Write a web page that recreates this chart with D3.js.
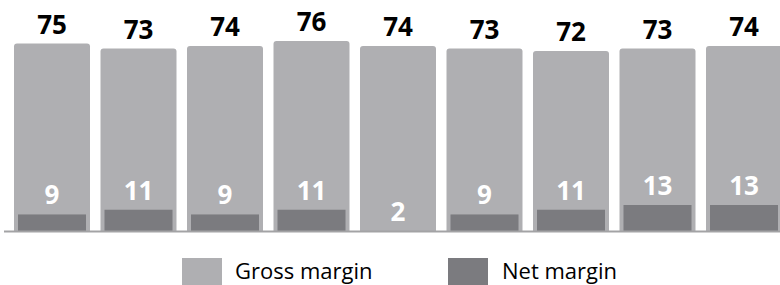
<!DOCTYPE html>
<html>
<head>
<meta charset="utf-8">
<script src="https://d3js.org/d3.v7.min.js"></script>
<style>
body { margin: 0; background: #fff; }
svg { display: block; }
</style>
</head>
<body>
<div id="chart"></div>
<script>
// data
var periods = ["1", "2", "3", "4", "5", "6", "7", "8", "9"];
var grossMargin = [75, 73, 74, 76, 74, 73, 72, 73, 74];
var netMargin = [9, 11, 9, 11, 2, 9, 11, 13, 13];
var seriesNames = ["Gross margin", "Net margin"];
var colors = ["#afafb2", "#7b7b7f"];

var width = 780, height = 285;
var baseY = 231;

var svg = d3.select("#chart").append("svg")
  .attr("width", width)
  .attr("height", height);

var x = d3.scaleBand()
  .domain(periods)
  .range([14, 782])
  .paddingInner(0.1214)
  .paddingOuter(0);

// gross bars start at zero
var y = d3.scaleLinear()
  .domain([0, 76])
  .range([baseY, baseY - 190]);

// net bars drawn on their own (truncated) scale, as in the original
var yNet = d3.scaleLinear()
  .domain([2, 13])
  .range([baseY, 205]);

var rows = periods.map(function(p, i) {
  return {p: p, gross: grossMargin[i], net: netMargin[i]};
});

// top-rounded rect path
function topRounded(x0, y0, w, h, r) {
  return "M" + x0 + "," + (y0 + h) +
    "V" + (y0 + r) +
    "Q" + x0 + "," + y0 + " " + (x0 + r) + "," + y0 +
    "H" + (x0 + w - r) +
    "Q" + (x0 + w) + "," + y0 + " " + (x0 + w) + "," + (y0 + r) +
    "V" + (y0 + h) + "Z";
}

svg.selectAll(".gross")
  .data(rows)
  .enter().append("path")
    .attr("class", "gross")
    .attr("fill", colors[0])
    .attr("d", function(d) {
      return topRounded(x(d.p), y(d.gross), x.bandwidth(), baseY - y(d.gross), 3);
    });

var inset = 4;
svg.selectAll(".net")
  .data(rows)
  .enter().append("rect")
    .attr("class", "net")
    .attr("fill", colors[1])
    .attr("x", function(d) { return x(d.p) + inset; })
    .attr("width", x.bandwidth() - 2 * inset)
    .attr("y", function(d) { return yNet(d.net); })
    .attr("height", function(d) { return baseY - yNet(d.net); });

// baseline
svg.append("line")
  .attr("x1", 4).attr("x2", width)
  .attr("y1", baseY + 0.5).attr("y2", baseY + 0.5)
  .attr("stroke", "#a3a3a5")
  .attr("stroke-width", 2);

// value labels
svg.selectAll(".glab")
  .data(rows)
  .enter().append("text")
    .attr("x", function(d) { return x(d.p) + x.bandwidth() / 2; })
    .attr("y", function(d) { return y(d.gross) - 10; })
    .attr("text-anchor", "middle")
    .attr("font-family", "'Open Sans', sans-serif")
    .attr("font-weight", "bold")
    .attr("font-size", 26)
    .attr("fill", "#000")
    .text(function(d) { return d.gross; });

svg.selectAll(".nlab")
  .data(rows)
  .enter().append("text")
    .attr("x", function(d) { return x(d.p) + x.bandwidth() / 2; })
    .attr("y", function(d) { return yNet(d.net) - 10; })
    .attr("text-anchor", "middle")
    .attr("font-family", "'Open Sans', sans-serif")
    .attr("font-weight", "bold")
    .attr("font-size", 26)
    .attr("fill", "#fff")
    .text(function(d) { return d.net; });

// legend
var legendX = [182, 448];
var legend = svg.selectAll(".legend")
  .data(seriesNames)
  .enter().append("g")
    .attr("class", "legend")
    .attr("transform", function(d, i) { return "translate(" + legendX[i] + ",258)"; });

legend.append("rect")
  .attr("width", 40).attr("height", 30)
  .attr("fill", function(d, i) { return colors[i]; });

legend.append("text")
  .attr("x", function(d, i) { return i === 0 ? 53 : 54; })
  .attr("y", 21)
  .attr("font-family", "'Open Sans', sans-serif")
  .attr("font-size", 22)
  .attr("fill", "#000")
  .text(function(d) { return d; });
</script>
</body>
</html>
